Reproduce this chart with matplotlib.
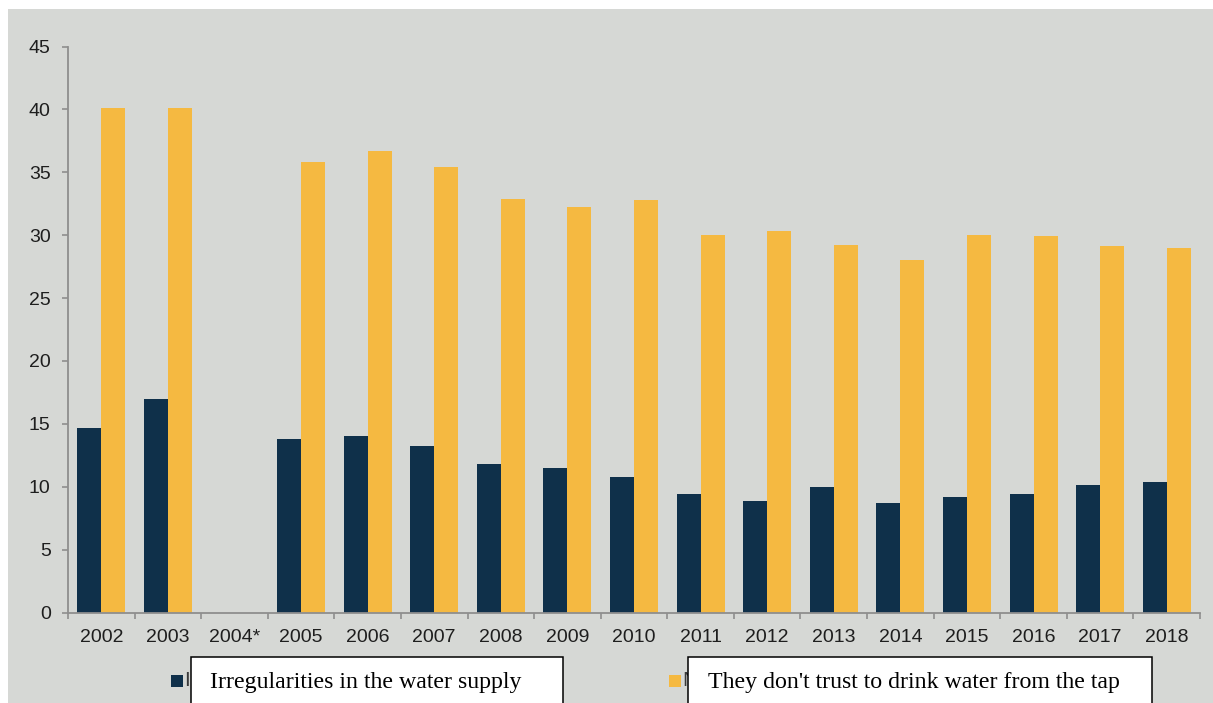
import matplotlib
matplotlib.use("Agg")
import matplotlib.pyplot as plt
from matplotlib.patches import Rectangle
import numpy as np

# Survey data (%), 2004 not surveyed
years = ["2002", "2003", "2004*", "2005", "2006", "2007", "2008", "2009", "2010",
         "2011", "2012", "2013", "2014", "2015", "2016", "2017", "2018"]
irregular_supply = [14.7, 17.0, np.nan, 13.8, 14.0, 13.2, 11.8, 11.5, 10.8,
                    9.4, 8.9, 10.0, 8.7, 9.2, 9.4, 10.1, 10.4]
no_trust_tap = [40.1, 40.1, np.nan, 35.8, 36.7, 35.4, 32.9, 32.2, 32.8,
                30.0, 30.3, 29.2, 28.0, 30.0, 29.9, 29.1, 29.0]
series_labels = ["Irregularities in the water supply",
                 "They don't trust to drink water from the tap"]
y_ticks = [0, 5, 10, 15, 20, 25, 30, 35, 40, 45]

W, H = 1213, 703
NAVY = "#0f304a"
GOLD = "#f5b941"
BG = "#d6d8d5"
SPINE = "#8e8e8e"
TXT = "#1e1e1e"

fig = plt.figure(figsize=(W / 100, H / 100), dpi=100, facecolor="white")

# grey panel behind the chart
fig.add_artist(Rectangle((8 / W, 0), 1 - 8 / W, (H - 9) / H,
                         transform=fig.transFigure, facecolor=BG,
                         edgecolor="none", zorder=0))

ax_left, ax_right = 68 / W, 1200 / W
ax_bottom, ax_top = (H - 612.5) / H, (H - 46.5) / H
ax = fig.add_axes([ax_left, ax_bottom, ax_right - ax_left, ax_top - ax_bottom])
ax.set_facecolor("none")

x = np.arange(len(years))
bw = 0.36
ax.bar(x - bw / 2, irregular_supply, width=bw, color=NAVY, zorder=2)
ax.bar(x + bw / 2, no_trust_tap, width=bw, color=GOLD, zorder=2)

ax.set_xlim(-0.5, len(years) - 0.5)
ax.set_ylim(0, 45)

for s in ("top", "right"):
    ax.spines[s].set_visible(False)
for s in ("left", "bottom"):
    ax.spines[s].set_color(SPINE)
    ax.spines[s].set_linewidth(1.3)

ax.set_yticks(y_ticks)
ax.set_yticklabels([str(v) for v in y_ticks])
ax.tick_params(axis="y", length=4.5, width=1.2, color=SPINE, pad=8,
               labelsize=14, labelcolor=TXT)

ax.set_xticks(x)
ax.set_xticklabels(years)
ax.tick_params(axis="x", which="major", length=0, pad=12, labelsize=14,
               labelcolor=TXT)
ax.set_xticks(np.arange(len(years) + 1) - 0.5, minor=True)
ax.tick_params(axis="x", which="minor", length=4, width=1.2, color=SPINE)

for lbl in ax.get_xticklabels() + ax.get_yticklabels():
    lbl.set_fontfamily("Liberation Sans")

# legend keys
def fig_rect(x0, y0, x1, y1, **kw):
    fig.add_artist(Rectangle((x0 / W, (H - y1) / H), (x1 - x0) / W, (y1 - y0) / H,
                             transform=fig.transFigure, **kw))

fig_rect(171, 675, 183, 687, facecolor=NAVY, edgecolor="none", zorder=3)
fig_rect(669, 675, 681, 687, facecolor=GOLD, edgecolor="none", zorder=3)
fig.text(184 / W, (H - 681) / H, "I", fontsize=15, color="#3a3a3a",
         family="Liberation Sans", va="center", ha="left", zorder=3)
fig.text(682 / W, (H - 681) / H, "N", fontsize=15, color="#3a3a3a",
         family="Liberation Sans", va="center", ha="left", zorder=3)

# labelled boxes for the two series
boxes = [(191, 563, 210), (688, 1152, 708)]
for (bx0, bx1, tx), label in zip(boxes, series_labels):
    fig_rect(bx0, 657, bx1, H + 10, facecolor="white", edgecolor="black",
             linewidth=1.1, zorder=4)
    fig.text(tx / W, (H - 688) / H, label, fontsize=17.2,
             family="Liberation Serif", color="black", va="baseline",
             ha="left", zorder=5)

fig.savefig("out.png", dpi=100, facecolor="white")
